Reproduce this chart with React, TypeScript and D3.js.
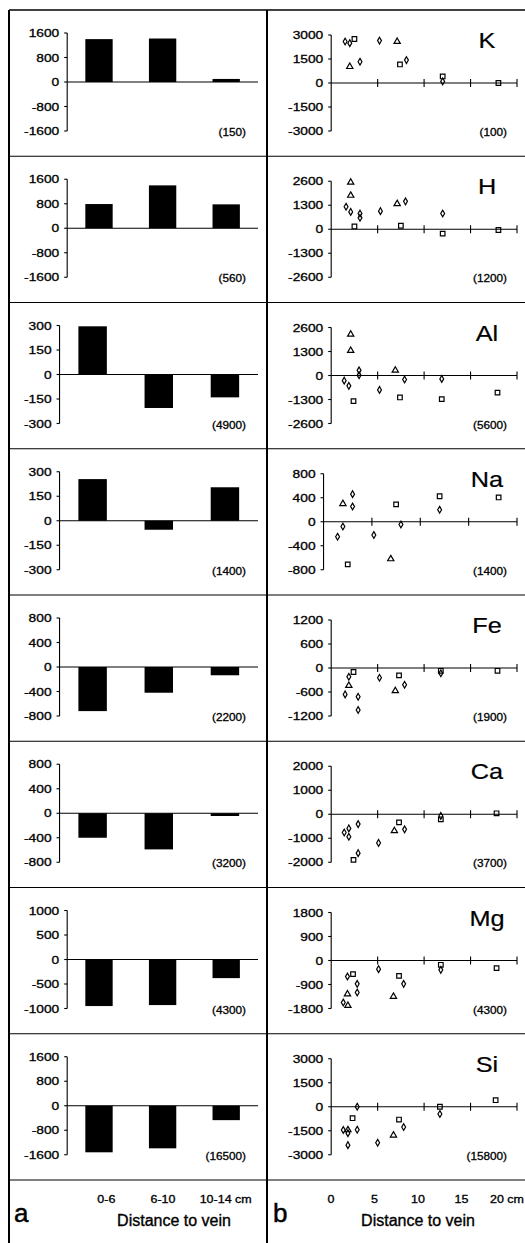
import React from "react";
import * as d3 from "d3";

const W = 525;
const H = 1243;
const FONT = "'Liberation Sans', Arial, sans-serif";

const elements = ["K", "H", "Al", "Na", "Fe", "Ca", "Mg", "Si"];
const barCategories = ["0-6", "6-10", "10-14"];
const distanceTicks = [0, 5, 10, 15, 20];

// bar heights (panel a), one array per element
const barK = [1400, 1420, 100];
const barH = [790, 1400, 780];
const barAl = [295, -205, -140];
const barNa = [255, -55, 205];
const barFe = [-720, -420, -135];
const barCa = [-400, -590, -45];
const barMg = [-950, -930, -380];
const barSi = [-1520, -1390, -470];
const barValues = [barK, barH, barAl, barNa, barFe, barCa, barMg, barSi];

const leftTicks = [
  [1600, 800, 0, -800, -1600],
  [1600, 800, 0, -800, -1600],
  [300, 150, 0, -150, -300],
  [300, 150, 0, -150, -300],
  [800, 400, 0, -400, -800],
  [800, 400, 0, -400, -800],
  [1000, 500, 0, -500, -1000],
  [1600, 800, 0, -800, -1600],
];
const rightTicks = [
  [3000, 1500, 0, -1500, -3000],
  [2600, 1300, 0, -1300, -2600],
  [2600, 1300, 0, -1300, -2600],
  [800, 400, 0, -400, -800],
  [1200, 600, 0, -600, -1200],
  [2000, 1000, 0, -1000, -2000],
  [1800, 900, 0, -900, -1800],
  [3000, 1500, 0, -1500, -3000],
];
const leftTotals = [150, 560, 4900, 1400, 2200, 3200, 4300, 16500];
const rightTotals = [100, 1200, 5600, 1400, 1900, 3700, 4300, 15800];

// scatter points (panel b): [distance cm, value]
const kPoints = {
  diamond: [[1.5, 2590], [2.0, 2490], [3.1, 1330], [5.2, 2650], [8.1, 1430], [12, 100]],
  square: [[2.5, 2750], [7.4, 1160], [12, 410], [18, 0]],
  triangle: [[2.0, 1020], [7.1, 2590]],
};
const hPoints = {
  diamond: [[1.6, 1220], [2.1, 940], [3.1, 850], [3.1, 620], [5.3, 980], [8.0, 1510], [12, 850]],
  square: [[2.5, 150], [7.5, 190], [12, -240], [18, -40]],
  triangle: [[2.1, 2540], [2.1, 1830], [7.1, 1380]],
};
const alPoints = {
  diamond: [[1.4, -280], [1.9, -560], [3.0, 280], [3.0, 20], [5.2, -780], [7.9, -220], [11.9, -185]],
  square: [[2.4, -1390], [7.4, -1190], [11.9, -1280], [17.9, -930]],
  triangle: [[2.1, 2230], [2.1, 1350], [6.9, 280]],
};
const naPoints = {
  diamond: [[1.45, -250], [2.0, -80], [3.0, 460], [3.0, 255], [5.2, -220], [8.0, -45], [12, 200]],
  square: [[2.5, -710], [7.5, 290], [12, 425], [18.1, 405]],
  triangle: [[2.0, 300], [6.95, -620]],
};
const fePoints = {
  diamond: [[1.9, -220], [1.5, -660], [2.9, -720], [2.9, -1050], [5.2, -245], [7.9, -420], [11.8, -130]],
  square: [[2.4, -100], [7.3, -185], [11.8, -70], [17.9, -70]],
  triangle: [[1.9, -440], [6.9, -570]],
};
const caPoints = {
  diamond: [[1.4, -760], [1.9, -590], [1.9, -940], [2.9, -410], [2.9, -1620], [5.1, -1195], [7.9, -630], [11.8, -70]],
  square: [[2.4, -1900], [7.3, -340], [11.8, -210], [17.8, 40]],
  triangle: [[6.8, -690]],
};
const mgPoints = {
  diamond: [[1.75, -600], [2.8, -875], [2.8, -1200], [1.3, -1575], [5.1, -325], [7.8, -875], [11.8, -350]],
  square: [[2.35, -510], [7.3, -575], [11.8, -160], [17.8, -285]],
  triangle: [[1.75, -1260], [1.8, -1690], [6.7, -1350]],
};
const siPoints = {
  diamond: [[2.8, 0], [1.3, -1450], [1.8, -1650], [2.8, -1435], [1.8, -2400], [5.0, -2250], [7.8, -1270], [11.7, -450]],
  square: [[2.3, -715], [7.3, -800], [11.7, 0], [17.7, 410]],
  triangle: [[1.8, -1450], [6.7, -1780]],
};
const scatterPoints = [kPoints, hPoints, alPoints, naPoints, fePoints, caPoints, mgPoints, siPoints];

const rowScale = d3.scaleLinear().domain([0, 8]).range([10, 1180]);

const symbols = {
  diamond: d3.symbol(d3.symbolDiamond, 13)(),
  square: d3.symbol(d3.symbolSquare, 21)(),
  triangle: d3.symbol(d3.symbolTriangle, 17)(),
};

// rough width of a tick label at 11px * 1.25
const labelWidth = (ticks: number[]) =>
  d3.max(ticks, (t) => String(Math.abs(t)).length * 7.65 + (t < 0 ? 4.6 : 0)) as number;

function Txt({ x, y, size, sx = 1, anchor = "start", bold = 0.3, children }: any) {
  return (
    <g transform={`translate(${x},${y}) scale(${sx},1)`}>
      <text
        fontSize={size}
        textAnchor={anchor}
        fontFamily={FONT}
        fill="#000"
        stroke="#000"
        strokeWidth={bold}
      >
        {children}
      </text>
    </g>
  );
}

function YAxis({ x0, y, ticks }: any) {
  const maxV = d3.max(ticks) as number;
  return (
    <g>
      <line x1={x0} x2={x0} y1={y(maxV)} y2={y(-maxV)} stroke="#000" strokeWidth={1.1} />
      {ticks.map((t: number) => (
        <g key={t}>
          <line x1={x0 - 3} x2={x0} y1={y(t)} y2={y(t)} stroke="#000" strokeWidth={1.1} />
          <Txt x={x0 - 8} y={y(t) + 4} size={11} sx={1.25} anchor="end">
            {t}
          </Txt>
        </g>
      ))}
    </g>
  );
}

function BarPanel({ i }: { i: number }) {
  const top = rowScale(i);
  const ticks = leftTicks[i];
  const maxV = d3.max(ticks) as number;
  const x0 = 32 + labelWidth(ticks);
  const x = d3.scaleBand().domain(barCategories).range([x0, 258]).paddingInner(0.57).paddingOuter(0.285);
  const y = d3.scaleLinear().domain([-maxV, maxV]).range([top + 121, top + 23]);
  const vals = barValues[i];
  return (
    <g>
      {barCategories.map((c, j) => (
        <rect
          key={c}
          x={x(c)}
          width={x.bandwidth()}
          y={Math.min(y(vals[j]), y(0))}
          height={Math.abs(y(vals[j]) - y(0))}
          fill="#000"
        />
      ))}
      <line x1={x0} x2={258} y1={y(0)} y2={y(0)} stroke="#000" strokeWidth={1.2} />
      <YAxis x0={x0} y={y} ticks={ticks} />
      <Txt x={246} y={top + 126} size={10.5} sx={1.12} anchor="end">
        ({leftTotals[i]})
      </Txt>
    </g>
  );
}

function ScatterPanel({ i }: { i: number }) {
  const top = rowScale(i);
  const ticks = rightTicks[i];
  const maxV = d3.max(ticks) as number;
  const x0 = 296 + labelWidth(ticks);
  const x = d3.scaleLinear().domain([0, 20]).range([x0, 517]);
  const y = d3.scaleLinear().domain([-maxV, maxV]).range([top + 121, top + 25]);
  const pts: any = scatterPoints[i];
  return (
    <g>
      <line x1={x0} x2={x(20)} y1={y(0)} y2={y(0)} stroke="#000" strokeWidth={1.2} />
      {distanceTicks.slice(1).map((d) => (
        <line key={d} x1={x(d)} x2={x(d)} y1={y(0) - 4} y2={y(0) + 4} stroke="#000" strokeWidth={1.1} />
      ))}
      <YAxis x0={x0} y={y} ticks={ticks} />
      {(["diamond", "square", "triangle"] as const).map((s) =>
        pts[s].map((p: number[], k: number) => (
          <path
            key={s + k}
            d={symbols[s] as string}
            transform={`translate(${x(p[0])},${y(p[1])})`}
            fill="none"
            stroke="#000"
            strokeWidth={1.2}
          />
        ))
      )}
      <Txt x={487} y={top + 38} size={22} sx={1.15} anchor="middle" bold={0.2}>
        {elements[i]}
      </Txt>
      <Txt x={507} y={top + 126} size={10.5} sx={1.12} anchor="end">
        ({rightTotals[i]})
      </Txt>
    </g>
  );
}

function Footer() {
  const top = rowScale(8);
  const xa = d3.scaleBand().domain(barCategories).range([78, 248]);
  const xb = d3.scaleLinear().domain([0, 20]).range([331, 505]);
  const last = barCategories[barCategories.length - 1];
  return (
    <g>
      {barCategories.map((c) =>
        c === last ? (
          <Txt key={c} x={(xa(c) as number) + xa.bandwidth() / 2 - 20} y={top + 23} size={10} sx={1.25}>
            {c} cm
          </Txt>
        ) : (
          <Txt key={c} x={(xa(c) as number) + xa.bandwidth() / 2} y={top + 23} size={10} sx={1.25} anchor="middle">
            {c}
          </Txt>
        )
      )}
      {distanceTicks.map((d) =>
        d === 20 ? (
          <Txt key={d} x={xb(d) - 15} y={top + 23} size={10} sx={1.25}>
            {d} cm
          </Txt>
        ) : (
          <Txt key={d} x={xb(d)} y={top + 23} size={10} sx={1.25} anchor="middle">
            {d}
          </Txt>
        )
      )}
      <Txt x={14} y={top + 42} size={26} bold={0.5}>a</Txt>
      <Txt x={273} y={top + 42} size={26} bold={0.5}>b</Txt>
      <Txt x={174} y={top + 46} size={16} bold={0.35} anchor="middle">Distance to vein</Txt>
      <Txt x={418} y={top + 46} size={16} bold={0.35} anchor="middle">Distance to vein</Txt>
    </g>
  );
}

export default function App() {
  const rows = d3.range(8);
  return (
    <svg
      width={W}
      height={H}
      style={{ position: "absolute", left: 0, top: 0, background: "#fff", display: "block" }}
    >
      <rect width={W} height={H} fill="#fff" />
      {/* frame */}
      <line x1={9} x2={9} y1={10} y2={H} stroke="#000" strokeWidth={2} />
      <line x1={267} x2={267} y1={10} y2={H} stroke="#000" strokeWidth={2} />
      {d3.range(9).map((r) => (
        <line key={r} x1={9} x2={W} y1={rowScale(r)} y2={rowScale(r)} stroke="#000" strokeWidth={r === 0 ? 1.6 : 1.2} />
      ))}
      {rows.map((i) => (
        <BarPanel key={"a" + i} i={i} />
      ))}
      {rows.map((i) => (
        <ScatterPanel key={"b" + i} i={i} />
      ))}
      <Footer />
    </svg>
  );
}
